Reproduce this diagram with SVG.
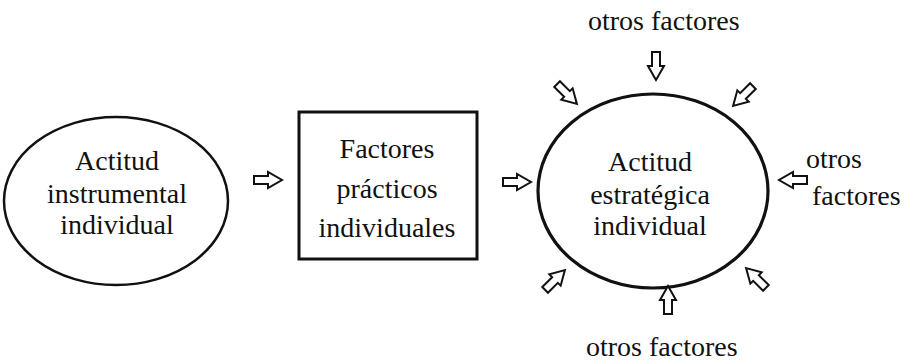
<svg xmlns="http://www.w3.org/2000/svg" width="913" height="363" viewBox="0 0 913 363">
<style>
.t{font-family:"Liberation Serif","Times New Roman",serif;font-size:28px;fill:#111}
.c{text-anchor:middle}
.sh{fill:none;stroke:#111}
.ar{fill:#fff;stroke:#111;stroke-width:2;stroke-linejoin:miter}
</style>
<defs>
<path id="arr" d="M-14,-4 H0 V-8 L14,0 L0,8 V4 H-14 Z"/>
</defs>
<rect width="913" height="363" fill="#fff"/>
<g id="n1">
<ellipse class="sh" cx="116" cy="201" rx="112" ry="84" stroke-width="2.5"/>
<text class="t c" x="117" y="170">Actitud</text>
<text class="t c" x="117" y="203">instrumental</text>
<text class="t c" x="117" y="234">individual</text>
</g>
<g id="n2">
<rect class="sh" x="299" y="112" width="178" height="147" stroke-width="3"/>
<text class="t c" x="387" y="158">Factores</text>
<text class="t c" x="387" y="198">prácticos</text>
<text class="t c" x="387" y="237">individuales</text>
</g>
<g id="n3">
<ellipse class="sh" cx="653" cy="191" rx="115" ry="97" stroke-width="3.2"/>
<text class="t c" x="650" y="171">Actitud</text>
<text class="t c" x="650" y="204">estratégica</text>
<text class="t c" x="650" y="235">individual</text>
</g>
<g id="labels">
<text class="t" x="588" y="30">otros factores</text>
<text class="t" x="806" y="168">otros</text>
<text class="t" x="812" y="205">factores</text>
<text class="t" x="586" y="356">otros factores</text>
</g>
<g id="connectors">
<use href="#arr" class="ar" transform="translate(268,180)"/>
<use href="#arr" class="ar" transform="translate(517,182)"/>
<use href="#arr" class="ar" transform="translate(656,66) rotate(90)"/>
<use href="#arr" class="ar" transform="translate(567,94) rotate(45)"/>
<use href="#arr" class="ar" transform="translate(743,96) rotate(135)"/>
<use href="#arr" class="ar" transform="translate(793,180) rotate(180)"/>
<use href="#arr" class="ar" transform="translate(555,280) rotate(-45)"/>
<use href="#arr" class="ar" transform="translate(668,300) rotate(-90)"/>
<use href="#arr" class="ar" transform="translate(756,278) rotate(-135)"/>
</g>
</svg>
